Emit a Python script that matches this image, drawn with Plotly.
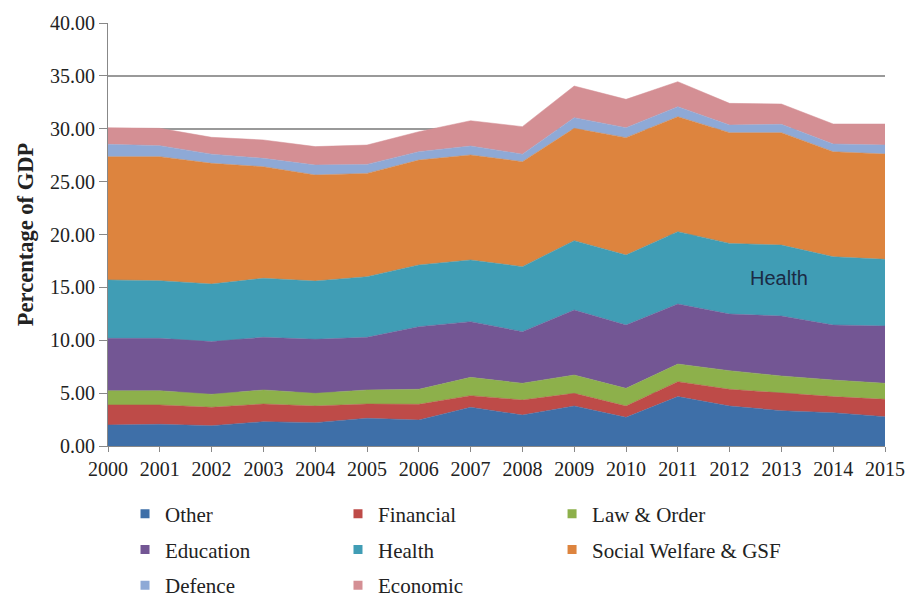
import plotly.graph_objects as go

years = list(range(2000, 2016))
other     = [1.99, 2.05, 1.92, 2.30, 2.21, 2.62, 2.46, 3.66, 2.93, 3.78, 2.71, 4.67, 3.78, 3.34, 3.15, 2.77]
financial = [1.89, 1.83, 1.74, 1.67, 1.57, 1.35, 1.48, 1.10, 1.42, 1.20, 1.07, 1.41, 1.58, 1.64, 1.52, 1.64]
law_order = [1.35, 1.35, 1.23, 1.33, 1.20, 1.33, 1.42, 1.73, 1.58, 1.73, 1.67, 1.67, 1.76, 1.64, 1.57, 1.52]
education = [4.95, 4.95, 4.98, 4.98, 5.11, 4.98, 5.92, 5.27, 4.88, 6.15, 5.99, 5.68, 5.36, 5.67, 5.20, 5.42]
health    = [5.52, 5.45, 5.45, 5.58, 5.51, 5.73, 5.84, 5.83, 6.15, 6.56, 6.62, 6.84, 6.68, 6.71, 6.46, 6.30]
social    = [11.66, 11.73, 11.41, 10.55, 10.03, 9.77, 9.92, 9.93, 9.93, 10.62, 11.10, 10.87, 10.47, 10.63, 9.93, 9.96]
defence   = [1.17, 1.04, 0.87, 0.79, 0.94, 0.85, 0.79, 0.85, 0.71, 1.01, 0.94, 0.95, 0.72, 0.79, 0.73, 0.85]
economic  = [1.57, 1.64, 1.59, 1.74, 1.74, 1.83, 1.89, 2.39, 2.60, 2.99, 2.68, 2.36, 2.05, 1.92, 1.89, 1.99]

names = ["Other", "Financial", "Law & Order", "Education", "Health",
         "Social Welfare & GSF", "Defence", "Economic"]
series = [other, financial, law_order, education, health, social, defence, economic]
colors = ["#3E6FA8", "#BE4B48", "#8DB04B", "#735694", "#409DB5",
          "#DD843E", "#8EA9D6", "#D48F94"]
# legend column for each series (3 columns, read row by row)
legend_ids = ["legend", "legend2", "legend3", "legend", "legend2", "legend3", "legend", "legend2"]

serif = "Liberation Serif, Times New Roman, serif"

fig = go.Figure()
for n, s, c in zip(names, series, colors):
    fig.add_trace(go.Scatter(
        x=years, y=s, name=n, mode="lines", stackgroup="one",
        line=dict(width=0.5, color=c), fillcolor=c,
        legendgroup=n, showlegend=False,
    ))
# legend entries with small square keys
for n, c, lg in zip(names, colors, legend_ids):
    fig.add_trace(go.Scatter(
        x=[None], y=[None], name=n, mode="markers",
        marker=dict(symbol="square", size=9, color=c),
        legend=lg, legendgroup=n, showlegend=True,
    ))

leg_common = dict(
    orientation="v", yanchor="top", xanchor="left",
    font=dict(family=serif, size=21, color="#222"),
    bgcolor="rgba(0,0,0,0)", tracegroupgap=5.5, itemwidth=30,
    traceorder="grouped",
)
leg_y = -0.1123

fig.update_layout(
    width=909, height=598,
    margin=dict(l=108, r=24, t=23, b=152, autoexpand=False),
    paper_bgcolor="white", plot_bgcolor="white",
    showlegend=True,
    xaxis=dict(
        range=[2000, 2015], tickmode="array", tickvals=years,
        ticktext=[str(y) for y in years],
        showgrid=False, showline=True, linecolor="#888", linewidth=1,
        ticks="outside", ticklen=5, tickcolor="#888",
        tickfont=dict(family=serif, size=20, color="#222"),
        zeroline=False, automargin=False,
    ),
    yaxis=dict(
        range=[0, 40], tickvals=[0, 5, 10, 15, 20, 25, 30, 35, 40],
        tickformat=".2f",
        showgrid=True, gridcolor="#999", gridwidth=1.5,
        showline=True, linecolor="#888", linewidth=1,
        ticks="outside", ticklen=8, tickcolor="#888",
        tickfont=dict(family=serif, size=20, color="#222"),
        title=dict(text="<b>Percentage of GDP</b>",
                   font=dict(family=serif, size=22.5, color="#222"), standoff=10),
        zeroline=False, automargin=True,
    ),
    legend=dict(x=0.0219, y=leg_y, **leg_common),
    legend2=dict(x=0.296, y=leg_y, **leg_common),
    legend3=dict(x=0.5715, y=leg_y, **leg_common),
    annotations=[dict(
        x=2012.95, y=15.9, xref="x", yref="y", text="Health", showarrow=False,
        font=dict(family="Liberation Sans, Arial, sans-serif", size=20, color="#1B2A44"),
    )],
)

fig.write_html("out.html")
